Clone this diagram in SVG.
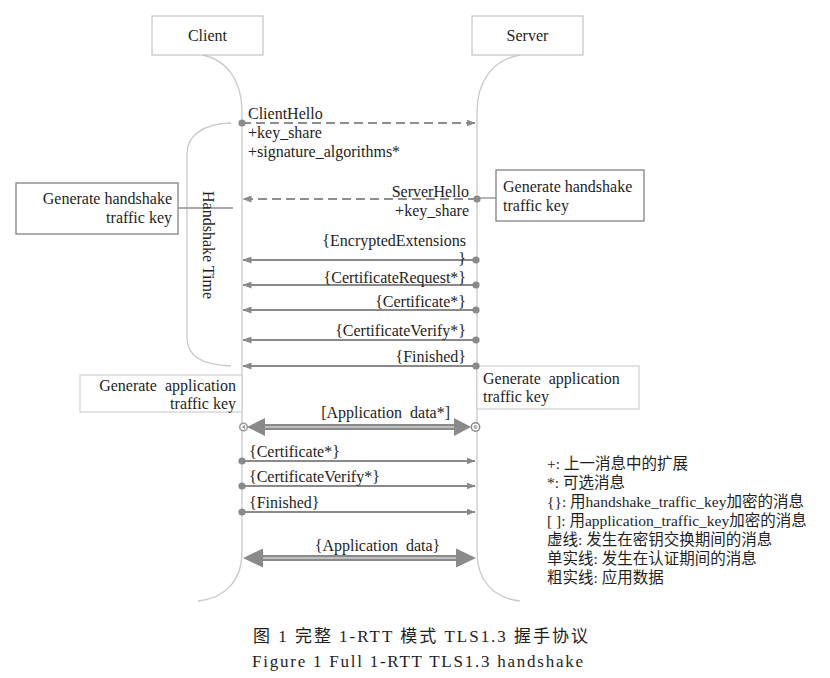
<svg xmlns="http://www.w3.org/2000/svg" width="830" height="678" viewBox="0 0 830 678" font-family="'Liberation Serif', 'Noto Sans CJK SC', serif">
<defs>
<style>
text{font-family:'Liberation Serif','Noto Sans CJK SC',serif;font-size:16px;fill:#1e1e1e}
.cap{font-size:17px}
.leg{font-size:15.5px}
.life{fill:none;stroke:#c9c9c9;stroke-width:1.3}
.ebox{fill:#fff;stroke:#c4c4c4;stroke-width:1.2}
.hbox{fill:#fff;stroke:#8c8c8c;stroke-width:1.4}
.abox{fill:#fff;stroke:#cfcfcf;stroke-width:1.2}
.dash{fill:none;stroke:#8e8e8e;stroke-width:2;stroke-dasharray:9 5}
.msg{fill:none;stroke:#8a8a8a;stroke-width:1.8}
.thick{fill:none;stroke:#8a8a8a;stroke-width:6}
.thin{fill:none;stroke:#d0d0d0;stroke-width:1.4}
.head{fill:#8a8a8a}
</style>
<marker id="arr" markerWidth="9" markerHeight="7" refX="8.5" refY="3.5" orient="auto" markerUnits="userSpaceOnUse">
<path d="M0,0 L9,3.5 L0,7 z" fill="#8a8a8a"/>
</marker>
<marker id="dot" markerWidth="8" markerHeight="8" refX="4" refY="4" markerUnits="userSpaceOnUse">
<circle cx="4" cy="4" r="3.6" fill="#8a8a8a"/>
</marker>
</defs>
<rect width="830" height="678" fill="#fff"/>

<g id="lifelines">
<path class="life" d="M202,55 C228,60 242,82 242,112 L242,552 C242,580 226,598 198,601"/>
<path class="life" d="M520,55 C492,60 477,82 477,112 L477,552 C477,580 493,598 520,601"/>
</g>

<g id="client">
<rect class="ebox" x="152" y="16" width="111" height="39"/>
<text x="207.5" y="41" text-anchor="middle">Client</text>
</g>
<g id="server">
<rect class="ebox" x="472" y="16" width="111" height="39"/>
<text x="527.5" y="41" text-anchor="middle">Server</text>
</g>

<g id="handshake-time">
<path class="life" d="M231,123 C202,124 187,136 187,154 L187,338 C187,356 202,365 231,366"/>
<line x1="178" y1="208" x2="233" y2="208" stroke="#8c8c8c" stroke-width="1.3"/>
<text transform="translate(203,245) rotate(90)" text-anchor="middle">Handshake Time</text>
</g>

<g id="client-hs-key">
<rect class="hbox" x="16" y="183" width="162" height="51"/>
<text x="172" y="204" text-anchor="end">Generate handshake</text>
<text x="172" y="223" text-anchor="end">traffic key</text>
</g>

<g id="server-hs-key">
<line x1="476" y1="198" x2="496" y2="198" stroke="#8c8c8c" stroke-width="1.3"/>
<rect class="hbox" x="496" y="170" width="148" height="51"/>
<text x="503" y="192">Generate handshake</text>
<text x="503" y="211">traffic key</text>
</g>

<g id="client-app-key">
<rect class="abox" x="80" y="375" width="162" height="37"/>
<text x="236" y="391" text-anchor="end" word-spacing="4">Generate application</text>
<text x="236" y="409" text-anchor="end">traffic key</text>
</g>

<g id="server-app-key">
<rect class="abox" x="477" y="366" width="162" height="43"/>
<text x="483" y="384" word-spacing="4">Generate application</text>
<text x="483" y="402">traffic key</text>
</g>

<g id="connectors">
<line class="dash" x1="242" y1="123" x2="475" y2="123" marker-start="url(#dot)" marker-end="url(#arr)"/>
<line class="dash" x1="477" y1="199" x2="243" y2="199" marker-start="url(#dot)" marker-end="url(#arr)"/>
<line class="msg" x1="476" y1="260" x2="243" y2="260" marker-start="url(#dot)" marker-end="url(#arr)"/>
<line class="msg" x1="476" y1="285" x2="243" y2="285" marker-start="url(#dot)" marker-end="url(#arr)"/>
<line class="msg" x1="476" y1="310" x2="243" y2="310" marker-start="url(#dot)" marker-end="url(#arr)"/>
<line class="msg" x1="476" y1="340" x2="243" y2="340" marker-start="url(#dot)" marker-end="url(#arr)"/>
<line class="msg" x1="476" y1="366" x2="243" y2="366" marker-start="url(#dot)" marker-end="url(#arr)"/>
<line class="msg" x1="242" y1="461" x2="475" y2="461" marker-start="url(#dot)" marker-end="url(#arr)"/>
<line class="msg" x1="242" y1="486" x2="475" y2="486" marker-start="url(#dot)" marker-end="url(#arr)"/>
<line class="msg" x1="242" y1="512" x2="475" y2="512" marker-start="url(#dot)" marker-end="url(#arr)"/>
<line class="thick" x1="258" y1="427" x2="460" y2="427"/>
<line class="thin" x1="258" y1="427" x2="460" y2="427"/>
<polygon class="head" points="247,427 265,418 265,436"/>
<polygon class="head" points="471,427 454,418 454,436"/>
<circle cx="243.5" cy="427" r="3.8" fill="#fff" stroke="#9a9a9a" stroke-width="1.5"/>
<polygon points="241.5,427 245,425 245,429" fill="#9a9a9a"/>
<circle cx="475.5" cy="427" r="4.2" fill="#fff" stroke="#8a8a8a" stroke-width="1.5"/>
<circle cx="475.5" cy="427" r="2" fill="#b0b0b0"/>
<line class="thick" x1="258" y1="558" x2="462" y2="558"/>
<line class="thin" x1="258" y1="558" x2="462" y2="558"/>
<polygon class="head" points="243,558 263,548.5 263,567.5"/>
<polygon class="head" points="476,558 456,548.5 456,567.5"/>
</g>

<g id="labels">
<text x="248" y="119">ClientHello</text>
<text x="248" y="138">+key_share</text>
<text x="248" y="157">+signature_algorithms*</text>
<text x="469" y="197" text-anchor="end">ServerHello</text>
<text x="469" y="216" text-anchor="end">+key_share</text>
<text x="466" y="246" text-anchor="end">{EncryptedExtensions</text>
<text x="466" y="264" text-anchor="end">}</text>
<text x="466" y="282.5" text-anchor="end">{CertificateRequest*}</text>
<text x="466" y="307" text-anchor="end">{Certificate*}</text>
<text x="466" y="336" text-anchor="end">{CertificateVerify*}</text>
<text x="466" y="362" text-anchor="end">{Finished}</text>
<text x="450" y="418" text-anchor="end" word-spacing="4">[Application data*]</text>
<text x="249" y="457">{Certificate*}</text>
<text x="249" y="482">{CertificateVerify*}</text>
<text x="249" y="508">{Finished}</text>
<text x="377.5" y="551" text-anchor="middle" word-spacing="4">{Application data}</text>
</g>

<g id="legend">
<text class="leg" x="547" y="469">+: 上一消息中的扩展</text>
<text class="leg" x="547" y="488">*: 可选消息</text>
<text class="leg" x="547" y="507">{}: 用handshake_traffic_key加密的消息</text>
<text class="leg" x="547" y="526">[ ]: 用application_traffic_key加密的消息</text>
<text class="leg" x="547" y="545">虚线: 发生在密钥交换期间的消息</text>
<text class="leg" x="547" y="564">单实线: 发生在认证期间的消息</text>
<text class="leg" x="547" y="583">粗实线: 应用数据</text>
</g>

<g id="caption">
<text class="cap" x="253" y="642" textLength="335" lengthAdjust="spacing">图 1  完整 1-RTT 模式 TLS1.3 握手协议</text>
<text class="cap" x="252" y="667" textLength="331" lengthAdjust="spacing">Figure 1  Full 1-RTT TLS1.3 handshake</text>
</g>
</svg>
